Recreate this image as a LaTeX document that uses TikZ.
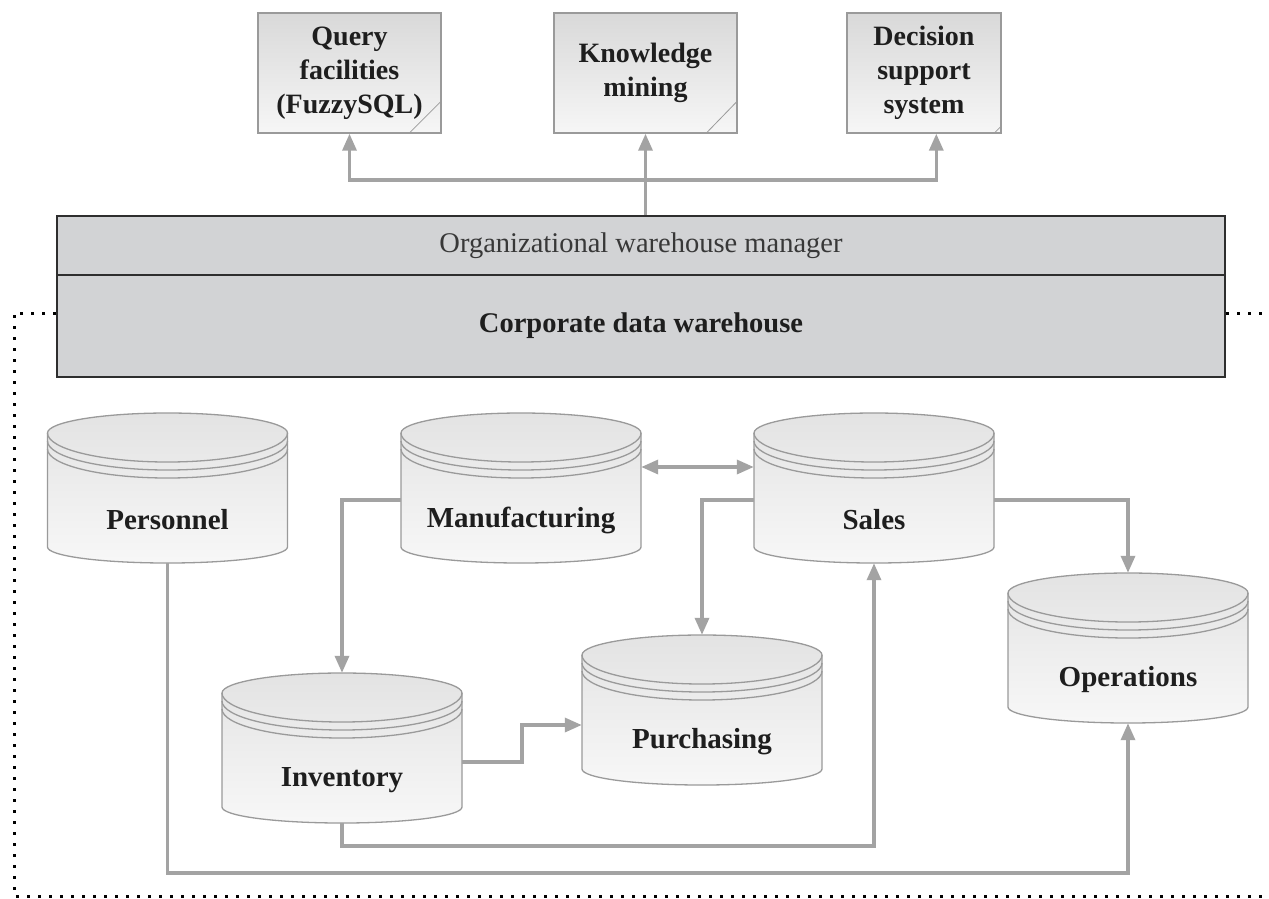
\documentclass[tikz,border=0pt]{standalone}
\usepackage{fontspec}
\setmainfont{Liberation Serif}
\usetikzlibrary{arrows.meta,calc}

\definecolor{conngray}{HTML}{A3A3A3}
\definecolor{whfill}{HTML}{D2D3D5}
\definecolor{whline}{HTML}{2E2E2E}
\definecolor{cylline}{HTML}{9A9A9A}
\definecolor{inktext}{HTML}{1E1E1E}

\tikzset{
  conn/.style={draw=conngray, line width=3.4pt, -{Triangle[length=17pt,width=14pt]}},
  biconn/.style={draw=conngray, line width=3.4pt, {Triangle[length=17pt,width=14pt]}-{Triangle[length=17pt,width=14pt]}},
  topbox/.style={draw=cylline, line width=1.4pt, top color=gray!30, bottom color=gray!7,
    minimum height=120pt, inner sep=0pt, align=center, text=inktext,
    font=\fontsize{28}{34}\selectfont\bfseries},
  whpart/.style={draw=whline, fill=whfill, line width=2pt, minimum width=1168pt, inner sep=0pt},
  cylbody/.style={draw=cylline, line width=1.3pt, top color=gray!22, bottom color=gray!6},
  cylrim/.style={draw=cylline, line width=1.3pt},
  cylbox/.style={minimum width=240pt, minimum height=150pt, inner sep=0pt},
  dblabel/.style={font=\fontsize{29}{34}\selectfont\bfseries, text=inktext, inner sep=0pt},
  fold/.style={draw=cylline, line width=0.8pt},
  boundary/.style={draw=black, line width=3pt, dash pattern=on 3pt off 8pt},
}

% database cylinder: name, centre x, top y, label
\newcommand\dbcyl[4]{%
  \path[cylbody] ({#2-120},{#3+20}) -- ({#2-120},{#3+134})
    .. controls ({#2-120},{#3+143}) and ({#2-66.3},{#3+150}) .. ({#2},{#3+150})
    .. controls ({#2+66.3},{#3+150}) and ({#2+120},{#3+143}) .. ({#2+120},{#3+134})
    -- ({#2+120},{#3+20})
    .. controls ({#2+120},{#3+9}) and ({#2+66.3},{#3}) .. ({#2},{#3})
    .. controls ({#2-66.3},{#3}) and ({#2-120},{#3+9}) .. cycle;
  \foreach \o in {0,8,16}{%
    \draw[cylrim] ({#2-120},{#3+20+\o})
      .. controls ({#2-120},{#3+36+\o}) and ({#2-66.3},{#3+49+\o}) .. ({#2},{#3+49+\o})
      .. controls ({#2+66.3},{#3+49+\o}) and ({#2+120},{#3+36+\o}) .. ({#2+120},{#3+20+\o});
  }
  \node[cylbox] (#1) at (#2,{#3+75}) {};
  \node[dblabel] (#1-text) at (#2,{#3+107}) {#4};
}

\begin{document}
\begin{tikzpicture}[x=1pt,y=-1pt]
\useasboundingbox (0,0) rectangle (1269,898);

% dotted boundary of the warehouse scope
\coordinate (dotTL) at (14,313);
\coordinate (dotBL) at (14,896);
\coordinate (dotBR) at (1269,896);
\coordinate (dotTR) at (1269,313);

% warehouse block
\node[whpart, minimum height=59pt, font=\fontsize{28.5}{33}\selectfont, text=black!78]
  (mgr) at (641,245.5) {Organizational warehouse manager};
\node[whpart, minimum height=102pt, font=\fontsize{28.5}{33}\selectfont\bfseries, text=inktext]
  (cdw) at (641,326) {Corporate data warehouse};

\draw[boundary] ([yshift=13pt]cdw.west) -- (dotTL) -- (dotBL) -- (dotBR);
\draw[boundary] ([yshift=13pt]cdw.east) -- (dotTR);

% applications
\node[topbox, minimum width=183pt] (query) at (349.5,73) {Query\\facilities\\(FuzzySQL)};
\node[topbox, minimum width=183pt] (know) at (645.5,73) {Knowledge\\mining};
\node[topbox, minimum width=154pt] (dss) at (924,73) {Decision\\support\\system};

\draw[fold] ([xshift=-33pt]query.south east) -- ([yshift=33pt]query.south east);
\draw[fold] ([xshift=-32pt]know.south east) -- ([yshift=33pt]know.south east);
\draw[fold] ([xshift=-8pt]dss.south east) -- ([yshift=8pt]dss.south east);

\coordinate (hub) at (645.5,180);
\draw[conn] (mgr.north -| hub) -- (know.south);
\draw[conn] (hub) -| (query.south);
\draw[conn] (hub) -| ([xshift=90pt]dss.south west);

% operational databases
\dbcyl{pers}{167.5}{413}{Personnel}
\dbcyl{manu}{521}{413}{Manufacturing}
\dbcyl{sales}{874}{413}{Sales}
\dbcyl{inv}{342}{673}{Inventory}
\dbcyl{purch}{702}{635}{Purchasing}
\dbcyl{oper}{1128}{573}{Operations}

% data flows
\draw[conn] ([yshift=-12pt]manu.west) -| (inv.north);
\draw[biconn] ([yshift=21pt]manu.east) -- ([yshift=21pt]sales.west);
\draw[conn] ([yshift=-12pt]sales.west) -| (purch.north);
\draw[conn] ([yshift=-12pt]sales.east) -| (oper.north);

\coordinate (invbend) at (522,762);
\draw[conn] ([yshift=-14pt]inv.east) -- (invbend) |- ([yshift=-15pt]purch.west);

\coordinate (invlow) at (342,846);
\draw[conn] (inv.south) -- (invlow) -| (sales.south);

\coordinate (perslow) at (167.5,873);
\draw[conn] (pers.south) -- (perslow) -| (oper.south);
\end{tikzpicture}
\end{document}
